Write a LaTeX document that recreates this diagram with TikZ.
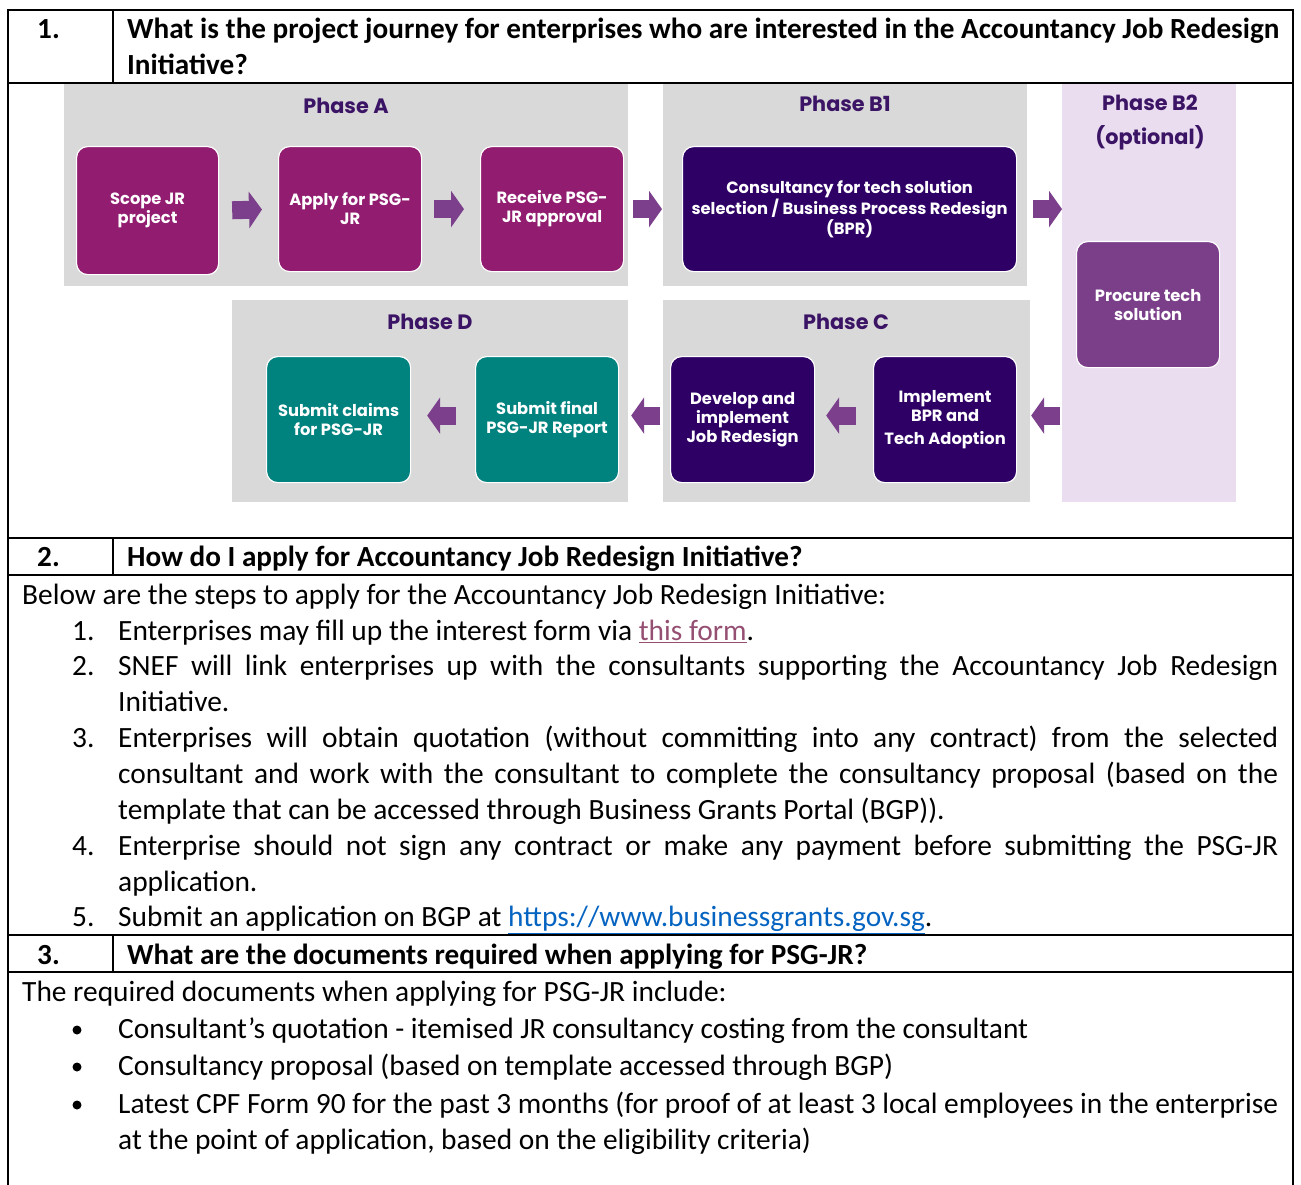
\documentclass[tikz,border=0pt]{standalone}
\usepackage{fontspec}
\setmainfont{Carlito}
\newfontfamily\gothic{Poppins}
\usetikzlibrary{arrows.meta}
\definecolor{magbox}{HTML}{911C70}
\definecolor{indbox}{HTML}{2E0066}
\definecolor{purbox}{HTML}{7B3F8A}
\definecolor{tealbox}{HTML}{00827F}
\definecolor{arrowc}{HTML}{7B3F8C}
\definecolor{phgray}{HTML}{D9D9D9}
\definecolor{phlav}{HTML}{EADDF0}
\definecolor{phtitlec}{HTML}{3B1465}
\definecolor{visited}{HTML}{954F72}
\definecolor{linkblue}{HTML}{0563C1}
\begin{document}
\begin{tikzpicture}[x=1pt,y=-1pt,
  body/.style={anchor=base west, inner sep=0, font=\fontsize{29.4}{35}\selectfont},
  head/.style={anchor=base west, inner sep=0, font=\fontsize{29.2}{35}\selectfont\bfseries},
  phasebg/.style={fill=#1, inner sep=0, anchor=north west, draw=none},
  phtitle/.style={text=phtitlec, inner sep=0, font=\gothic\bfseries\fontsize{20.8}{26}\selectfont},
  stepbox/.style={fill=#1, draw=white, line width=1.2pt, rounded corners=11pt, text=white,
    align=center, inner sep=0, anchor=north west,
    font=\gothic\bfseries\fontsize{16.3}{19}\selectfont},
  blk/.style={draw=arrowc, line width=18pt, -{Triangle[length=13pt,width=36pt]}},
  rule/.style={line width=2pt, black},
  bul/.style={circle, fill=black, inner sep=0, minimum size=9pt}
]
\useasboundingbox (0,0) rectangle (1301,1185);

% ---------- diagram backgrounds ----------
\node[phasebg=phgray, minimum width=564pt, minimum height=203pt] (pa) at (64,83) {};
\node[phasebg=phgray, minimum width=364pt, minimum height=203pt] (pb1) at (663,83) {};
\node[phasebg=phlav, minimum width=174pt, minimum height=419pt] (pb2) at (1062,83) {};
\node[phasebg=phgray, minimum width=396pt, minimum height=202pt] (pd) at (232,300) {};
\node[phasebg=phgray, minimum width=367pt, minimum height=202pt] (pc) at (663,300) {};

\node[phtitle] (ta) at (346,106) {Phase A};
\node[phtitle] (tb1) at (845,104) {Phase B1};
\node[phtitle, align=center, font=\gothic\bfseries\fontsize{20.8}{34}\selectfont] (tb2) at (1150,123) {Phase B2\\(optional)};
\node[phtitle] (td) at (430,322) {Phase D};
\node[phtitle] (tc) at (846,322) {Phase C};

% ---------- step boxes ----------
\node[stepbox=magbox, minimum width=142pt, minimum height=128pt] (scope) at (76,146) {Scope JR\\project};
\node[stepbox=magbox, minimum width=143pt, minimum height=125pt] (apply) at (278,146) {Apply for PSG-\\JR};
\node[stepbox=magbox, minimum width=143pt, minimum height=125pt] (receive) at (480,146) {Receive PSG-\\JR approval};
\node[stepbox=indbox, minimum width=334pt, minimum height=125pt] (cons) at (682,146) {Consultancy for tech solution\\selection / Business Process Redesign\\(BPR)};
\node[stepbox=purbox, minimum width=143pt, minimum height=126pt] (procure) at (1076,241) {Procure tech\\solution};
\node[stepbox=tealbox, minimum width=144pt, minimum height=126pt] (claims) at (266,356) {Submit claims\\for PSG-JR};
\node[stepbox=tealbox, minimum width=143pt, minimum height=126pt] (final) at (475,356) {Submit final\\PSG-JR Report};
\node[stepbox=indbox, minimum width=144pt, minimum height=126pt] (dev) at (670,356) {Develop and\\implement\\Job Redesign};
\node[stepbox=indbox, minimum width=143pt, minimum height=126pt] (impl) at (873,356) {Implement\\BPR and\\[4pt]Tech Adoption};

% ---------- block arrows ----------
\draw[blk, shorten <=13pt, shorten >=16pt] (scope.east) -- (apply.west);
\draw[blk, shorten <=12pt, shorten >=16pt] (apply.east) -- (receive.west);
\draw[blk, shorten <=9pt, shorten >=20pt] (receive.east) -- (cons.west);
\draw[blk, shorten <=16pt] (cons.east) -- (cons.east -| pb2.west);
\draw[blk, shorten <=2pt, shorten >=14pt] ([yshift=4pt]impl.east -| pb2.west) -- ([yshift=4pt]impl.east);
\draw[blk, shorten <=17pt, shorten >=11pt] ([yshift=4pt]impl.west) -- ([yshift=4pt]dev.east);
\draw[blk, shorten <=10pt, shorten >=12pt] ([yshift=4pt]dev.west) -- ([yshift=4pt]final.east);
\draw[blk, shorten <=19pt, shorten >=16pt] ([yshift=4pt]final.west) -- ([yshift=4pt]claims.east);

% ---------- table rules ----------
\draw[rule] (8,10) -- (1293,10);
\draw[rule] (8,9) -- (8,1185);
\draw[rule] (1293,9) -- (1293,1185);
\foreach \yy in {83,538,575,935,972} \draw[rule] (8,\yy) -- (1293,\yy);
\draw[rule] (113,10) -- (113,83);
\draw[rule] (113,538) -- (113,575);
\draw[rule] (113,935) -- (113,972);

% ---------- section 1 header ----------
\node[head] (n1) at (37,38.5) {1.};
\node[head] (q1a) at (127,38.5) {What is the project journey for enterprises who are interested in the Accountancy Job Redesign};
\node[head] (q1b) at (127,74.5) {Initiative?};

% ---------- section 2 ----------
\node[head] (n2) at (37,566.5) {2.};
\node[head] (q2) at (127,566.5) {How do I apply for Accountancy Job Redesign Initiative?};
\node[body] (s2) at (22,604.5) {Below are the steps to apply for the Accountancy Job Redesign Initiative:};
\node[body] (i1n) at (72,640.5) {1.};
\node[body] (i1) at (118,640.5) {Enterprises may fill up the interest form via \textcolor{visited}{\underline{this form}}.};
\node[body] (i2n) at (72,675.5) {2.};
\node[body] (i2a) at (118,675.5) {\makebox[1160pt][s]{SNEF will link enterprises up with the consultants supporting the Accountancy Job Redesign}};
\node[body] (i2b) at (118,711.5) {Initiative.};
\node[body] (i3n) at (72,747.5) {3.};
\node[body] (i3a) at (118,747.5) {\makebox[1160pt][s]{Enterprises will obtain quotation (without committing into any contract) from the selected}};
\node[body] (i3b) at (118,783.5) {\makebox[1160pt][s]{consultant and work with the consultant to complete the consultancy proposal (based on the}};
\node[body] (i3c) at (118,819.5) {template that can be accessed through Business Grants Portal (BGP)).};
\node[body] (i4n) at (72,855.5) {4.};
\node[body] (i4a) at (118,855.5) {\makebox[1160pt][s]{Enterprise should not sign any contract or make any payment before submitting the PSG-JR}};
\node[body] (i4b) at (118,891.5) {application.};
\node[body] (i5n) at (72,926.5) {5.};
\node[body] (i5) at (118,926.5) {Submit an application on BGP at \textcolor{linkblue}{\underline{https://www.businessgrants.gov.sg}}.};

% ---------- section 3 ----------
\node[head] (n3) at (37,964.5) {3.};
\node[head] (q3) at (127,964.5) {What are the documents required when applying for PSG-JR?};
\node[body] (s3) at (22,1001.5) {The required documents when applying for PSG-JR include:};
\node[bul] (b1) at (77,1030) {};
\node[body] (d1) at (118,1038.5) {Consultant’s quotation - itemised JR consultancy costing from the consultant};
\node[bul] (b2) at (77,1067) {};
\node[body] (d2) at (118,1075.5) {Consultancy proposal (based on template accessed through BGP)};
\node[bul] (b3) at (77,1105) {};
\node[body] (d3a) at (118,1113.5) {\makebox[1160pt][s]{Latest CPF Form 90 for the past 3 months (for proof of at least 3 local employees in the enterprise}};
\node[body] (d3b) at (118,1149.5) {at the point of application, based on the eligibility criteria)};
\end{tikzpicture}
\end{document}
